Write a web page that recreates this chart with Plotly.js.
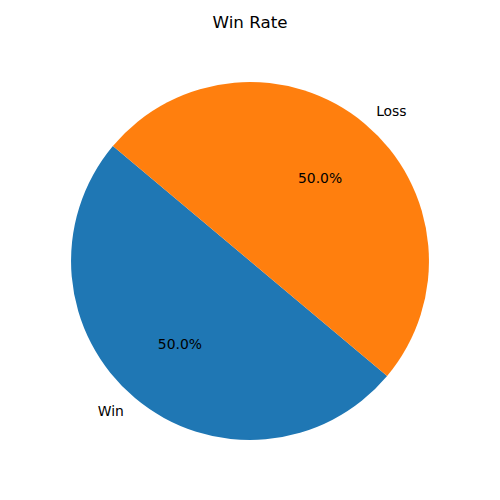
<!DOCTYPE html>
<html>
<head>
<meta charset="utf-8">
<script src="https://cdn.plot.ly/plotly-3.0.1.min.js"></script>
<style>html,body{margin:0;padding:0;background:#fff;}#chart{width:500px;height:500px;}</style>
</head>
<body>
<div id="chart"></div>
<script>
const categories = ["Win", "Loss"];
const values = [50, 50];
const colors = ["#1f77b4", "#ff7f0e"];
const chartTitle = "Win Rate";

const pieDomain = {x: [0.142, 0.858], y: [0.12, 0.836]};
const pctDomain = {x: [0.064, 0.936], y: [0.042, 0.914]};
const labelDomain = {x: [0.12, 0.88], y: [0.098, 0.858]};
const font = {family: "DejaVu Sans", size: 13.9, color: "#000"};
const clear = ["rgba(0,0,0,0)", "rgba(0,0,0,0)"];

const common = {
  type: "pie",
  labels: categories,
  values: values,
  sort: false,
  direction: "counterclockwise",
  rotation: 130,
  hoverinfo: "none",
  showlegend: false
};

const data = [
  Object.assign({}, common, {
    marker: {colors: colors, line: {width: 0}},
    textinfo: "none",
    domain: pieDomain
  }),
  Object.assign({}, common, {
    marker: {colors: clear, line: {width: 0}},
    texttemplate: "%{percent:.1%}",
    textposition: "inside",
    insidetextorientation: "horizontal",
    insidetextfont: font,
    domain: pctDomain
  }),
  Object.assign({}, common, {
    marker: {colors: clear, line: {width: 0}},
    textinfo: "label",
    textposition: "outside",
    outsidetextfont: font,
    domain: labelDomain
  })
];

const layout = {
  width: 500, height: 500,
  margin: {l: 0, r: 0, t: 0, b: 0},
  paper_bgcolor: "#fff",
  title: {text: chartTitle, font: {family: "DejaVu Sans", size: 16.7, color: "#000"}, x: 0.5, xanchor: "center", y: 0.955, yanchor: "middle"},
  showlegend: false
};

Plotly.newPlot("chart", data, layout, {staticPlot: true});
</script>
</body>
</html>
